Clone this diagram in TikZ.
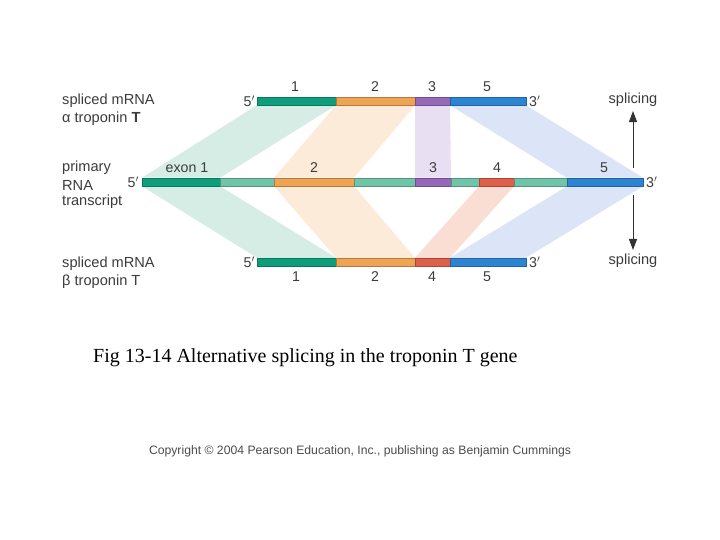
\documentclass[tikz,border=0pt]{standalone}
\usepackage{fontspec}
\setmainfont{Liberation Serif}
\newfontfamily\arialf{Liberation Sans}
\usetikzlibrary{backgrounds,arrows.meta}
\definecolor{cgreen}{RGB}{14,158,124}
\definecolor{cintron}{RGB}{112,196,168}
\definecolor{corange}{RGB}{238,164,82}
\definecolor{cpurple}{RGB}{150,104,186}
\definecolor{cred}{RGB}{222,96,72}
\definecolor{cblue}{RGB}{44,132,210}
\definecolor{bgreen}{RGB}{214,237,229}
\definecolor{borange}{RGB}{252,235,216}
\definecolor{bpurple}{RGB}{232,224,242}
\definecolor{bred}{RGB}{250,222,212}
\definecolor{bblue}{RGB}{220,229,247}
\definecolor{txt}{RGB}{60,60,60}
\tikzset{
  seg/.style={rectangle, inner sep=0pt, outer sep=0pt, minimum height=8.5pt, fill=#1, draw=#1!75!black, line width=0.4pt},
  lbl/.style={font=\arialf\fontsize{14.6}{17}\selectfont, text=txt, inner sep=0pt},
  num/.style={font=\arialf\fontsize{14.2}{17}\selectfont, text=txt, inner sep=0pt},
  band/.style={fill=#1, draw=none},
  arr/.style={-{Triangle[length=11pt,width=8pt]}, line width=1pt, draw=black!80},
}
\newcommand\mkseg[5]{\node[seg=#5, minimum width={(#3-#2)*1pt}] (#1) at ({(#2+#3)/2},#4) {};}
\begin{document}
\begin{tikzpicture}[x=1pt,y=-1pt]
\useasboundingbox (0,0) rectangle (720,540);
% top row (alpha)
\mkseg{a1}{257}{336}{101}{cgreen}
\mkseg{a2}{336}{415}{101}{corange}
\mkseg{a3}{415}{450}{101}{cpurple}
\mkseg{a5}{450}{526}{101}{cblue}
% primary transcript
\mkseg{p1}{142}{220}{182}{cgreen}
\mkseg{i1}{220}{274}{182}{cintron}
\mkseg{p2}{274}{354}{182}{corange}
\mkseg{i2}{354}{415}{182}{cintron}
\mkseg{p3}{415}{451}{182}{cpurple}
\mkseg{i3}{451}{479}{182}{cintron}
\mkseg{p4}{479}{514}{182}{cred}
\mkseg{i4}{514}{567}{182}{cintron}
\mkseg{p5}{567}{643}{182}{cblue}
% bottom row (beta)
\mkseg{b1}{257}{336}{262}{cgreen}
\mkseg{b2}{336}{415}{262}{corange}
\mkseg{b4}{415}{450}{262}{cred}
\mkseg{b5}{450}{526}{262}{cblue}
% bands
\begin{scope}[on background layer]
\fill[white] (0,0) rectangle (720,540);
\fill[band=bgreen] (a1.south west) -- (a1.south east) -- (p1.north east) -- (p1.north west) -- cycle;
\fill[band=borange] (a2.south west) -- (a2.south east) -- (p2.north east) -- (p2.north west) -- cycle;
\fill[band=bpurple] (a3.south west) -- (a3.south east) -- (p3.north east) -- (p3.north west) -- cycle;
\fill[band=bblue] (a5.south west) -- (a5.south east) -- (p5.north east) -- (p5.north west) -- cycle;
\fill[band=bgreen] (p1.south west) -- (p1.south east) -- (b1.north east) -- (b1.north west) -- cycle;
\fill[band=borange] (p2.south west) -- (p2.south east) -- (b2.north east) -- (b2.north west) -- cycle;
\fill[band=bred] (p4.south west) -- (p4.south east) -- (b4.north east) -- (b4.north west) -- cycle;
\fill[band=bblue] (p5.south west) -- (p5.south east) -- (b5.north east) -- (b5.north west) -- cycle;
\end{scope}
% exon numbers
\node[num] (na1) at (295,87) {1};
\node[num] (na2) at (375,87) {2};
\node[num] (na3) at (432,87) {3};
\node[num] (na5) at (487,87) {5};
\node[num] (np1) at (187,168) {exon 1};
\node[num] (np2) at (314,168) {2};
\node[num] (np3) at (433,168) {3};
\node[num] (np4) at (497,168) {4};
\node[num] (np5) at (604,168) {5};
\node[num] (nb1) at (296,277) {1};
\node[num] (nb2) at (375,277) {2};
\node[num] (nb4) at (432,277) {4};
\node[num] (nb5) at (487,277) {5};
% ends
\node[num, anchor=east] (a5p) at (255,101) {5$'$};
\node[num, anchor=west] (a3p) at (529,101) {3$'$};
\node[num, anchor=east] (p5p) at (139,182) {5$'$};
\node[num, anchor=west] (p3p) at (646,182) {3$'$};
\node[num, anchor=east] (b5p) at (255,262) {5$'$};
\node[num, anchor=west] (b3p) at (529,262) {3$'$};
% left labels
\node[lbl, anchor=west] (la1) at (62,101) {spliced mRNA};
\node[lbl, anchor=west] (la2) at (62,119) {α troponin \textbf{T}};
\node[lbl, anchor=west] (lp1) at (62,168) {primary};
\node[lbl, anchor=west] (lp2) at (62,185) {RNA};
\node[lbl, anchor=west] (lp3) at (62,202) {transcript};
\node[lbl, anchor=west] (lb1) at (62,264) {spliced mRNA};
\node[lbl, anchor=west] (lb2) at (62,282) {β troponin T};
% splicing arrows
\node[lbl] (sp1) at (633,100) {splicing};
\node[lbl] (sp2) at (633,261) {splicing};
\coordinate (s1) at (633,168);
\coordinate (s2) at (633,195);
\draw[arr] (s1) -- ([yshift=-4pt]sp1.south);
\draw[arr] (s2) -- ([yshift=4pt]sp2.north);
% caption
\node[font=\fontsize{20}{24}\selectfont, anchor=west, inner sep=0pt] (cap) at (93,358) {Fig 13-14 Alternative splicing in the troponin T gene};
\node[font=\arialf\fontsize{12.2}{14}\selectfont, text=black!70, inner sep=0pt] (copy) at (360,451) {Copyright \textcopyright{} 2004 Pearson Education, Inc., publishing as Benjamin Cummings};
\end{tikzpicture}
\end{document}
